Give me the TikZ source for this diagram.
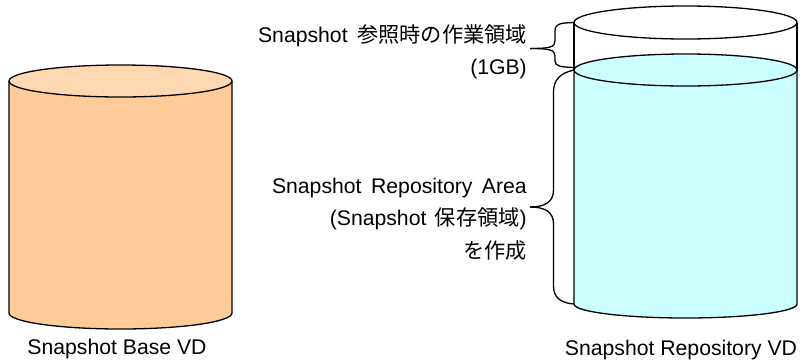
\documentclass[tikz,border=0pt]{standalone}
\usepackage{fontspec}
\setmainfont{Liberation Sans}
\newfontfamily\cjkfont{Noto Sans CJK JP}
\newcommand{\ja}[1]{{\cjkfont #1}}
\definecolor{baseside}{HTML}{FFCC99}
\definecolor{basetop}{HTML}{FFD8B2}
\definecolor{areaside}{HTML}{CCFFFF}
\tikzset{
  wall/.style={draw=black, line width=1.3pt},
  brace/.style={draw=black, line width=1.3pt, line join=round},
  note/.style={font=\fontsize{21.2}{32.4}\selectfont, align=right, anchor=east, inner sep=0pt},
  caption/.style={font=\fontsize{21.2}{24}\selectfont, anchor=base, inner sep=0pt}
}
\begin{document}
\begin{tikzpicture}[x=1pt, y=-1pt]
  \useasboundingbox (0,0) rectangle (800,362);
  % base volume
  \coordinate (bl) at (9,  81);
  \coordinate (br) at (232,81);
  \coordinate (dl) at (9,  313);
  \coordinate (dr) at (232,313);
  \draw [wall, fill=baseside] (bl) -- (dl) arc [start angle=180, end angle=360, x radius=111.5, y radius=-16] -- (br);
  \draw [wall, fill=basetop] (bl) arc [start angle=180, end angle=-180, x radius=111.5, y radius=16];
  % repository volume
  \coordinate (ol) at (574,22.5);
  \coordinate (or) at (797,22.5);
  \coordinate (il) at (574,70);
  \coordinate (ir) at (797,70);
  \coordinate (jl) at (574,304);
  \coordinate (jr) at (797,304);
  \draw [wall, fill=white] (ol) -- (il) -- (ir) -- (or);
  \draw [wall, fill=white] (ol) arc [start angle=180, end angle=-180, x radius=111.5, y radius=16.5];
  \draw [wall, fill=areaside] (il) -- (jl) arc [start angle=180, end angle=360, x radius=111.5, y radius=-14] -- (ir);
  \draw [wall, fill=areaside] (il) arc [start angle=180, end angle=-180, x radius=111.5, y radius=16];
  % braces
  \coordinate (worktip) at (530,48.5);
  \coordinate (areatip) at (530,207);
  \draw [brace] (ol) .. controls (562,23) and (555,23) .. (555,31) -- (555,41)
    .. controls (555,47) and (550,48.5) .. (worktip);
  \draw [brace] (worktip) .. controls (550,48.5) and (555,50) .. (555,56) -- (555,61)
    .. controls (555,66) and (560,67) .. (574,67.5);
  \draw [brace] (il) .. controls (560,73) and (553.5,80) .. (553.5,92) -- (553.5,190)
    .. controls (553.5,202) and (545,207) .. (areatip);
  \draw [brace] (areatip) .. controls (545,207) and (553.5,212) .. (553.5,224) -- (553.5,286)
    .. controls (553.5,297) and (560,303) .. (jl);
  % labels
  \node [note] (worktext) at (527,52) {Snapshot\hspace{0.45em}\ja{参照時の作業領域}\\(1GB)};
  \node [note] (areatext) at (527,219) {Snapshot\hspace{0.45em}Repository\hspace{0.45em}Area\\(Snapshot\hspace{0.4em}\ja{保存領域})\\\ja{を作成}};
  \node [caption] (basetext) at (117,354) {Snapshot Base VD};
  \node [caption] (repotext) at (681,355) {Snapshot Repository VD};
\end{tikzpicture}
\end{document}
